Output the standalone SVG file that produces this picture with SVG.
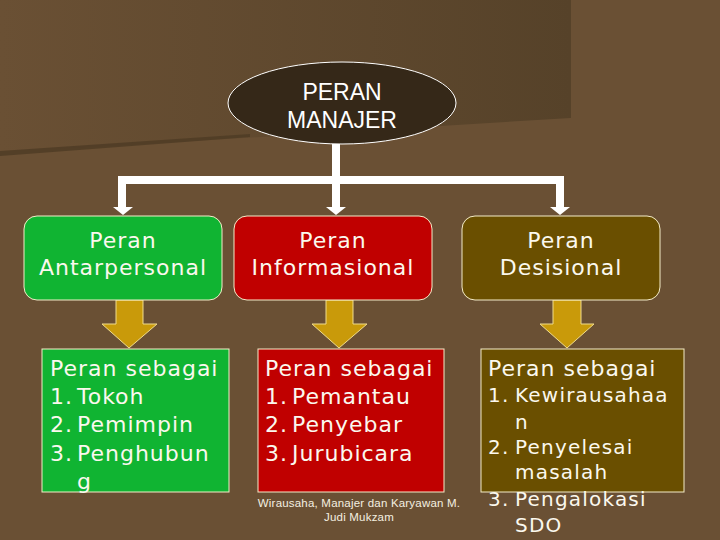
<svg xmlns="http://www.w3.org/2000/svg" width="720" height="540" viewBox="0 0 720 540">
<defs>
<linearGradient id="panel" x1="0" y1="0" x2="1" y2="0">
<stop offset="0" stop-color="#6a5034"/>
<stop offset="1" stop-color="#564229"/>
</linearGradient>
<style>
.t{font-family:"DejaVu Sans",Verdana,sans-serif;fill:#fbf8ee;}
.h{font-size:22px;text-anchor:middle;letter-spacing:1px;}
.l{font-size:22px;letter-spacing:1px;}
.s{font-size:20px;letter-spacing:1.2px;}
.c{font-family:"Liberation Sans",Arial,sans-serif;font-size:11.5px;letter-spacing:0.2px;fill:#f4efe0;text-anchor:middle;}
.ya{fill:#c99a0a;stroke:#f0dc8c;stroke-width:1;}
.wire{fill:none;stroke:#ffffff;stroke-width:8;}
.box{stroke:#f4ecc8;stroke-width:1;}
</style>
</defs>
<rect width="720" height="540" fill="#6a5034"/>
<polygon points="0,0 571,0 571,118 0,153" fill="url(#panel)"/>
<polygon points="0,151 250,134 250,137 0,156" fill="#4e3b24" opacity="0.8"/>

<g id="connectors">
<path class="wire" d="M336,144 V180 M122,180 H560 M122,176 V208 M336,176 V208 M560,176 V208"/>
<polygon points="113,207 133,207 123,215" fill="#ffffff"/>
<polygon points="326,207 346,207 336,215" fill="#ffffff"/>
<polygon points="550,207 570,207 560,215" fill="#ffffff"/>
<polygon class="ya" points="116,300 143,300 143,324 157,324 129,348 102,324 116,324"/>
<polygon class="ya" points="326,300 353,300 353,324 367,324 339,348 312,324 326,324"/>
<polygon class="ya" points="553,300 581,300 581,324 594,324 567,348 540,324 553,324"/>
</g>

<g id="root">
<ellipse cx="342" cy="103" rx="114" ry="41" fill="#352818" stroke="#ffffff" stroke-width="1"/>
<text x="342" y="100" font-family="Liberation Sans,Arial,sans-serif" font-size="23" fill="#ffffff" text-anchor="middle">PERAN</text>
<text x="342" y="128" font-family="Liberation Sans,Arial,sans-serif" font-size="23" fill="#ffffff" text-anchor="middle">MANAJER</text>
</g>

<g id="antarpersonal">
<rect class="box" x="24" y="216" width="198" height="84" rx="13" fill="#10b432"/>
<text class="t h" x="123" y="248">Peran</text>
<text class="t h" x="123" y="275">Antarpersonal</text>
</g>
<g id="informasional">
<rect class="box" x="234" y="216" width="198" height="84" rx="13" fill="#c00000"/>
<text class="t h" x="333" y="248">Peran</text>
<text class="t h" x="333" y="275">Informasional</text>
</g>
<g id="desisional">
<rect class="box" x="462" y="216" width="198" height="84" rx="13" fill="#6a4f00"/>
<text class="t h" x="561" y="248">Peran</text>
<text class="t h" x="561" y="275">Desisional</text>
</g>

<g id="list-antarpersonal">
<rect class="box" x="42" y="349" width="187" height="143" fill="#10b432"/>
<text class="t l" x="50" y="376">Peran sebagai</text>
<text class="t l" x="50" y="404">1.</text><text class="t l" x="77" y="404">Tokoh</text>
<text class="t l" x="50" y="432">2.</text><text class="t l" x="77" y="432">Pemimpin</text>
<text class="t l" x="50" y="461">3.</text><text class="t l" x="77" y="461">Penghubun</text>
<text class="t l" x="77" y="489">g</text>
</g>
<g id="list-informasional">
<rect class="box" x="258" y="349" width="186" height="143" fill="#c00000"/>
<text class="t l" x="265" y="376">Peran sebagai</text>
<text class="t l" x="265" y="404">1.</text><text class="t l" x="292" y="404">Pemantau</text>
<text class="t l" x="265" y="432">2.</text><text class="t l" x="292" y="432">Penyebar</text>
<text class="t l" x="265" y="461">3.</text><text class="t l" x="292" y="461">Jurubicara</text>
</g>
<g id="list-desisional">
<rect class="box" x="481" y="349" width="203" height="143" fill="#6a4f00"/>
<text class="t l" x="488" y="376">Peran sebagai</text>
<text class="t s" x="488" y="402">1.</text><text class="t s" x="515" y="402">Kewirausahaa</text>
<text class="t s" x="515" y="429">n</text>
<text class="t s" x="488" y="454">2.</text><text class="t s" x="515" y="454">Penyelesai</text>
<text class="t s" x="515" y="479">masalah</text>
<text class="t s" x="488" y="506">3.</text><text class="t s" x="515" y="506">Pengalokasi</text>
<text class="t s" x="515" y="532">SDO</text>
</g>

<g id="caption">
<text class="c" x="359" y="507">Wirausaha, Manajer dan Karyawan  M.</text>
<text class="c" x="359" y="521">Judi Mukzam</text>
</g>
</svg>
